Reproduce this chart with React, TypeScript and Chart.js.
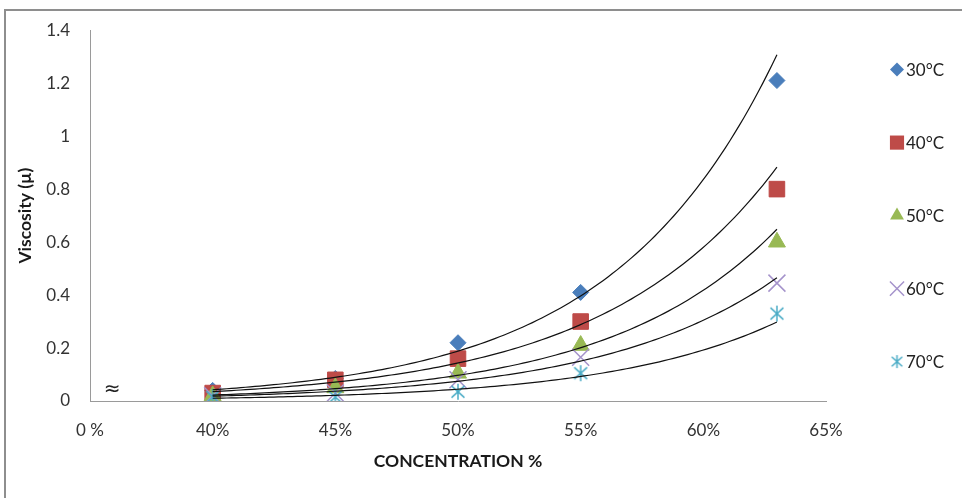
import React, { useEffect, useRef } from "react";
import { Chart, registerables } from "chart.js";
import { drawPoint } from "chart.js/helpers";

Chart.register(...registerables);

// ---- data ----
const CONCENTRATION = [40, 45, 50, 55, 63];
const SERIES_NAMES = ["30°C", "40°C", "50°C", "60°C", "70°C"];
const VISCOSITY_30C = [0.04, 0.085, 0.22, 0.41, 1.21];
const VISCOSITY_40C = [0.03, 0.08, 0.16, 0.3, 0.8];
const VISCOSITY_50C = [0.02, 0.05, 0.105, 0.21, 0.6];
const VISCOSITY_60C = [0.02, 0.03, 0.08, 0.165, 0.445];
const VISCOSITY_70C = [0.015, 0.015, 0.035, 0.105, 0.33];
const X_TICK_VALUES = [35, 40, 45, 50, 55, 60, 65];
const X_TICK_LABELS = ["0 %", "40%", "45%", "50%", "55%", "60%", "65%"];
const Y_TICK_VALUES = [0, 0.2, 0.4, 0.6, 0.8, 1, 1.2, 1.4];
const Y_TICK_LABELS = ["0", "0.2", "0.4", "0.6", "0.8", "1", "1.2", "1.4"];
const X_AXIS_TITLE = "CONCENTRATION %";
const Y_AXIS_TITLE = "Viscosity (µ)";
const AXIS_BREAK_MARK = "≈";

// ---- styles ----
const FONT = "Lato, 'Liberation Sans', Arial, sans-serif";
const COLORS = ["#4A7EBB", "#BE4B48", "#98B954", "#A593CB", "#4BACC6"];
const POINT_RADII = [8, 11, 9.8, 12, 9];
const LEGEND_RADII = [7, 10, 8, 10, 7.5];
const TEXT_COLOR = "#333333";
const AXIS_COLOR = "#9a9a9a";

function makeAsterisk(size: number, color: string): HTMLCanvasElement {
  const c = document.createElement("canvas");
  c.width = size;
  c.height = size;
  const g = c.getContext("2d")!;
  g.strokeStyle = color;
  g.lineWidth = 1.5;
  const m = size / 2;
  const r = size / 2 - 1;
  g.beginPath();
  g.moveTo(m, m - r);
  g.lineTo(m, m + r);
  const dx = r * Math.cos(Math.PI / 5);
  const dy = r * Math.sin(Math.PI / 5) * 1.25;
  g.moveTo(m - dx, m - dy);
  g.lineTo(m + dx, m + dy);
  g.moveTo(m - dx, m + dy);
  g.lineTo(m + dx, m - dy);
  g.stroke();
  return c;
}

function expFit(xs: number[], ys: number[]) {
  const n = xs.length;
  const ly = ys.map((v) => Math.log(v));
  const mx = xs.reduce((s, v) => s + v, 0) / n;
  const my = ly.reduce((s, v) => s + v, 0) / n;
  let sxy = 0;
  let sxx = 0;
  for (let i = 0; i < n; i++) {
    sxy += (xs[i] - mx) * (ly[i] - my);
    sxx += (xs[i] - mx) * (xs[i] - mx);
  }
  const b = sxy / sxx;
  const a = Math.exp(my - b * mx);
  return (x: number) => a * Math.exp(b * x);
}

export default function App() {
  const canvasRef = useRef<HTMLCanvasElement | null>(null);

  useEffect(() => {
    const canvas = canvasRef.current;
    if (!canvas) return;
    const SERIES = [VISCOSITY_30C, VISCOSITY_40C, VISCOSITY_50C, VISCOSITY_60C, VISCOSITY_70C];
    const asteriskPlot = makeAsterisk(18, COLORS[4]);
    const asteriskLegend = makeAsterisk(15, COLORS[4]);
    const styles: any[] = ["rectRot", "rect", "triangle", "crossRot", asteriskPlot];
    const legendStyles: any[] = ["rectRot", "rect", "triangle", "crossRot", asteriskLegend];

    const datasets = SERIES.map((vals, i) => ({
      label: SERIES_NAMES[i],
      data: CONCENTRATION.map((x, j) => ({ x, y: vals[j] })),
      showLine: false,
      pointStyle: styles[i],
      pointRadius: POINT_RADII[i],
      pointHoverRadius: POINT_RADII[i],
      backgroundColor: i === 3 ? "rgba(0,0,0,0)" : COLORS[i],
      borderColor: COLORS[i],
      borderWidth: i === 3 ? 1.5 : 1,
      order: SERIES.length - 1 - i,
    }));

    const trendPlugin = {
      id: "trendlines",
      afterDatasetsDraw(chart: any) {
        const { ctx, scales } = chart;
        const xs = scales.x;
        const ys = scales.y;
        ctx.save();
        ctx.strokeStyle = "#111";
        ctx.lineWidth = 1.2;
        SERIES.forEach((vals) => {
          const f = expFit(CONCENTRATION, vals);
          const x0 = CONCENTRATION[0];
          const x1 = CONCENTRATION[CONCENTRATION.length - 1];
          ctx.beginPath();
          const steps = 120;
          for (let k = 0; k <= steps; k++) {
            const x = x0 + ((x1 - x0) * k) / steps;
            const px = xs.getPixelForValue(x);
            const py = ys.getPixelForValue(f(x));
            if (k === 0) ctx.moveTo(px, py);
            else ctx.lineTo(px, py);
          }
          ctx.stroke();
        });
        // axis break mark
        ctx.fillStyle = "#222";
        ctx.font = `20px 'DejaVu Sans', sans-serif`;
        ctx.textAlign = "center";
        ctx.textBaseline = "middle";
        ctx.fillText(AXIS_BREAK_MARK, xs.getPixelForValue(35.9), ys.getPixelForValue(0) - 11);
        ctx.restore();
      },
    };

    const legendPlugin = {
      id: "sideLegend",
      afterDraw(chart: any) {
        const { ctx, chartArea } = chart;
        const cy = (chartArea.top + chartArea.bottom) / 2;
        const mx = chartArea.right + 71;
        ctx.save();
        SERIES_NAMES.forEach((name, i) => {
          const y = cy + (i - 2) * 73;
          ctx.fillStyle = COLORS[i];
          ctx.strokeStyle = COLORS[i];
          ctx.lineWidth = 1.5;
          drawPoint(
            ctx,
            {
              pointStyle: legendStyles[i],
              radius: LEGEND_RADII[i],
              rotation: 0,
              borderWidth: i === 3 ? 1.5 : 0,
            } as any,
            mx,
            y
          );
          ctx.fillStyle = "#222";
          ctx.font = `17px ${FONT}`;
          ctx.textAlign = "left";
          ctx.textBaseline = "middle";
          ctx.fillText(name, mx + 9, y + 1);
        });
        ctx.restore();
      },
    };

    const chart = new Chart(canvas, {
      type: "scatter",
      data: { datasets: datasets as any },
      plugins: [trendPlugin, legendPlugin],
      options: {
        animation: false,
        responsive: false,
        devicePixelRatio: 1,
        layout: { padding: { left: 11, top: 30, right: 136, bottom: 22 } },
        plugins: { legend: { display: false }, tooltip: { enabled: false } },
        scales: {
          x: {
            type: "linear",
            min: 35,
            max: 65,
            afterBuildTicks: (s: any) => {
              s.ticks = X_TICK_VALUES.map((v) => ({ value: v }));
            },
            afterFit: (s: any) => {
              s.height = 75;
            },
            ticks: {
              callback: (_v: any, i: number) => X_TICK_LABELS[i],
              padding: 19,
              color: TEXT_COLOR,
              font: { family: FONT, size: 17 },
              maxRotation: 0,
            },
            grid: { display: false, drawTicks: false },
            border: { display: true, color: AXIS_COLOR, width: 1 },
            title: {
              display: true,
              text: X_AXIS_TITLE,
              color: "#1a1a1a",
              font: { family: FONT, size: 17.5, weight: "bold" },
            },
          },
          y: {
            type: "linear",
            min: 0,
            max: 1.4,
            afterBuildTicks: (s: any) => {
              s.ticks = Y_TICK_VALUES.map((v) => ({ value: v }));
            },
            afterFit: (s: any) => {
              s.width = 79;
            },
            ticks: {
              callback: (_v: any, i: number) => Y_TICK_LABELS[i],
              padding: 20,
              color: TEXT_COLOR,
              font: { family: FONT, size: 17 },
            },
            grid: { display: false, drawTicks: false },
            border: { display: true, color: AXIS_COLOR, width: 1 },
            title: {
              display: true,
              text: Y_AXIS_TITLE,
              color: "#1a1a1a",
              font: { family: FONT, size: 17.5, weight: "bold" },
            },
          },
        },
      } as any,
    });
    return () => chart.destroy();
  }, []);

  return (
    <div
      style={{
        position: "fixed",
        left: 0,
        top: 0,
        width: 962,
        height: 498,
        overflow: "hidden",
        background: "#fff",
      }}
    >
      <div
        style={{
          position: "absolute",
          left: 4,
          top: 9,
          width: 970,
          height: 500,
          borderTop: "2px solid #8e8e8e",
          borderLeft: "2px solid #8e8e8e",
        }}
      />
      <canvas
        ref={canvasRef}
        width={962}
        height={498}
        style={{ position: "absolute", left: 0, top: 0, width: 962, height: 498 }}
      />
    </div>
  );
}
